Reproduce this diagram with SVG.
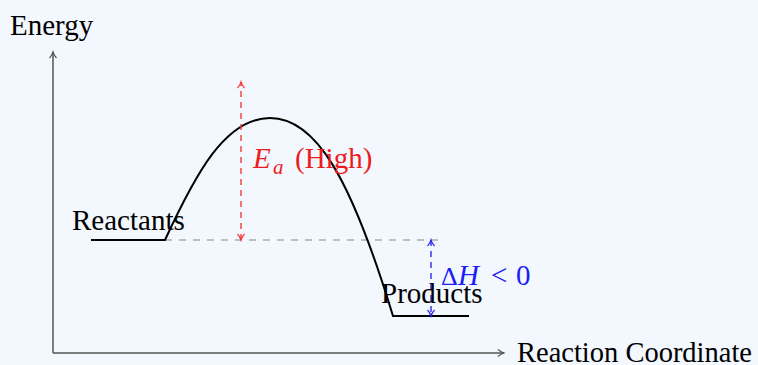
<svg xmlns="http://www.w3.org/2000/svg" width="758" height="365" viewBox="0 0 758 365">
<style>
text{font-family:"Liberation Serif","Times New Roman",serif;font-size:29px}
.axis{stroke:#555;stroke-width:1.5;fill:none}
.curve{stroke:#000;stroke-width:2;fill:none}
.ref{stroke:#888;stroke-width:1.2;stroke-dasharray:7 7;fill:none}
.ea{stroke:#f23c3c;stroke-width:1.4;stroke-dasharray:6 5;fill:none}
.dh{stroke:#2a2aee;stroke-width:1.4;stroke-dasharray:6 5;fill:none}
</style>
<defs>
<marker id="ahR" markerWidth="10" markerHeight="10" refX="8" refY="5" orient="auto-start-reverse" markerUnits="userSpaceOnUse">
<path d="M2,1.5 Q5,4.2 8,5 Q5,5.8 2,8.5" fill="none" stroke="#f23c3c" stroke-width="1.2"/>
</marker>
<marker id="ahB" markerWidth="10" markerHeight="10" refX="8" refY="5" orient="auto-start-reverse" markerUnits="userSpaceOnUse">
<path d="M2,1.5 Q5,4.2 8,5 Q5,5.8 2,8.5" fill="none" stroke="#2a2aee" stroke-width="1.2"/>
</marker>
<marker id="ahA" markerWidth="10" markerHeight="10" refX="8" refY="5" orient="auto" markerUnits="userSpaceOnUse">
<path d="M2,1.5 Q5,4.2 8,5 Q5,5.8 2,8.5" fill="none" stroke="#555" stroke-width="1.2"/>
</marker>
</defs>
<rect width="758" height="365" fill="#f3f7fe"/>
<g id="axes">
<path class="axis" d="M53,353 V52" marker-end="url(#ahA)"/>
<path class="axis" d="M53,353 H504" marker-end="url(#ahA)"/>
<text x="10" y="35">Energy</text>
<text x="517" y="362" textLength="235" lengthAdjust="spacingAndGlyphs">Reaction Coordinate</text>
</g>
<g id="connectors">
<path class="ref" d="M165,240 H445"/>
<path class="curve" d="M91,240 H165 C195,175 225,118 270,118 C315,118 350,175 393,316 H469"/>
<path class="ea" d="M241,240 V82" marker-start="url(#ahR)" marker-end="url(#ahR)"/>
<path class="dh" d="M431,240 V316" marker-start="url(#ahB)" marker-end="url(#ahB)"/>
</g>
<g id="reactants">
<text x="72" y="230">Reactants</text>
</g>
<g id="products">
<text x="381" y="303">Products</text>
</g>
<g id="ea-label">
<text y="168" fill="#ee1c1c"><tspan x="253" font-style="italic">E</tspan><tspan x="273" y="174" font-style="italic" font-size="21">a</tspan><tspan x="295" y="168">(High)</tspan></text>
</g>
<g id="dh-label">
<text y="285" fill="#1c1cf5"><tspan x="441" font-size="26">Δ</tspan><tspan x="458" font-style="italic">H</tspan><tspan x="491">&lt;</tspan><tspan x="516">0</tspan></text>
</g>
</svg>
